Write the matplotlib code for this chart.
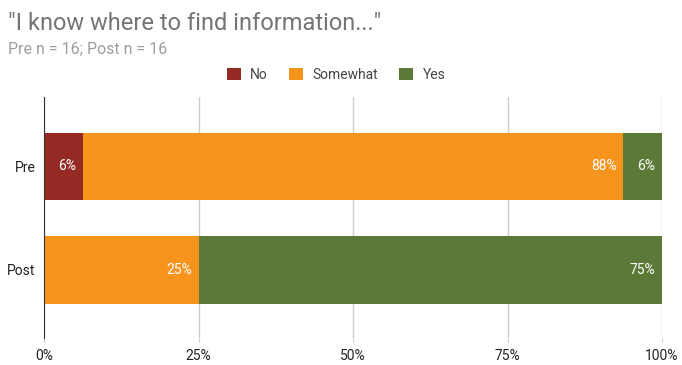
import matplotlib
matplotlib.use("Agg")
import matplotlib.pyplot as plt
import numpy as np

# Data
groups = ["Pre", "Post"]
responses = ["No", "Somewhat", "Yes"]
no_vals = [6.25, 0.0]
somewhat_vals = [87.5, 25.0]
yes_vals = [6.25, 75.0]
labels_no = ["6%", ""]
labels_somewhat = ["88%", "25%"]
labels_yes = ["6%", "75%"]
colors = ["#952a25", "#f7941e", "#5b7a37"]

plt.rcParams["font.family"] = ["Roboto", "DejaVu Sans"]

fig = plt.figure(figsize=(6.82, 3.65), dpi=100)
ax = fig.add_axes([44 / 682, 1 - 338 / 365, 618 / 682, 241 / 365])

y = np.arange(len(groups))
series = [no_vals, somewhat_vals, yes_vals]
seg_labels = [labels_no, labels_somewhat, labels_yes]
left = np.zeros(len(groups))
for name, vals, col, labs in zip(responses, series, colors, seg_labels):
    vals = np.array(vals)
    ax.barh(y, vals, left=left, height=0.65, color=col, label=name, zorder=2)
    for i, (v, lab) in enumerate(zip(vals, labs)):
        if v > 0 and lab:
            ax.text(left[i] + v - 1.1, y[i], lab, ha="right", va="center",
                    color="white", fontsize=10, zorder=3)
    left += vals

ax.set_xlim(0, 100)
ax.set_ylim(1.657, -0.671)
ax.set_yticks(y)
ax.set_yticklabels(groups, fontsize=10, color="#222222")
ax.set_xticks([0, 25, 50, 75, 100])
ax.set_xticklabels(["0%", "25%", "50%", "75%", "100%"], fontsize=10,
                   color="#222222")
ax.tick_params(axis="y", length=0, pad=6)
ax.tick_params(axis="x", length=3, pad=5, color="#cccccc")
ax.grid(axis="x", color="#cccccc", linewidth=1, zorder=0)
for s in ["top", "right", "bottom"]:
    ax.spines[s].set_visible(False)
ax.spines["left"].set_color("#333333")
ax.spines["left"].set_zorder(4)

fig.text(8 / 682, 1 - 30 / 365, "\"I know where to find information...\"",
         fontsize=17, color="#757575", ha="left", va="baseline")
fig.text(8 / 682, 1 - 53 / 365, "Pre n = 16; Post n = 16",
         fontsize=11.5, color="#9e9e9e", ha="left", va="baseline")

fig.legend(loc="center", bbox_to_anchor=(336 / 682, 1 - 75 / 365), ncol=3,
           frameon=False, fontsize=10, handlelength=1.0, handleheight=1.0,
           handletextpad=0.7, columnspacing=1.5, labelcolor="#444444")

fig.savefig("out.png", dpi=100)
